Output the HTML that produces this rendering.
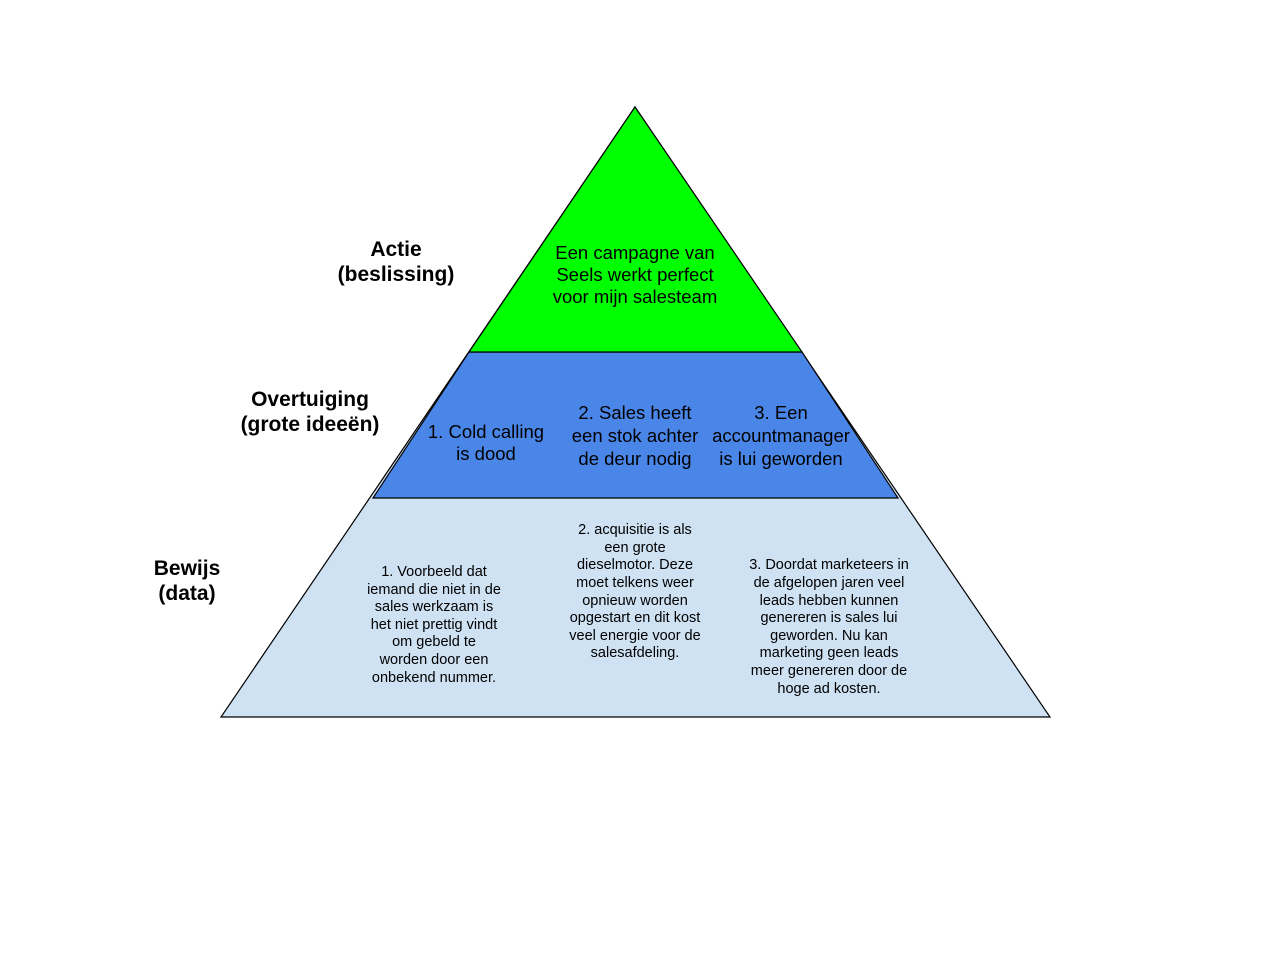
<!DOCTYPE html>
<html><head><meta charset="utf-8"><style>
body{margin:0;background:#fff;}
svg{display:block}
text{font-family:"Liberation Sans",Arial,sans-serif;fill:#000}
.b{font-weight:bold;font-size:21px}
.m{font-size:18.5px}
.s{font-size:14.5px}
</style></head><body>
<svg width="1280" height="960" viewBox="0 0 1280 960">
<polygon points="635,107 221,717 1050,717" fill="#cfe2f3" stroke="#000" stroke-width="1.2"/>
<polygon points="373,498 898,498 802,352 469,352" fill="#4a86e8" stroke="#000" stroke-width="1.2"/>
<polygon points="635,107 469,352 802,352" fill="#00ff00" stroke="#000" stroke-width="1.2"/>
<g text-anchor="middle">
<text class="b" x="396" y="256">Actie</text>
<text class="b" x="396" y="281">(beslissing)</text>
<text class="b" x="310" y="406">Overtuiging</text>
<text class="b" x="310" y="431">(grote ideeën)</text>
<text class="b" x="187" y="575">Bewijs</text>
<text class="b" x="187" y="600">(data)</text>
<text class="m" x="635" y="259">Een campagne van</text>
<text class="m" x="635" y="281">Seels werkt perfect</text>
<text class="m" x="635" y="303">voor mijn salesteam</text>
<text class="m" x="486" y="438">1. Cold calling</text>
<text class="m" x="486" y="460">is dood</text>
<text class="m" x="635" y="419">2. Sales heeft</text>
<text class="m" x="635" y="442">een stok achter</text>
<text class="m" x="635" y="465">de deur nodig</text>
<text class="m" x="781" y="419">3. Een</text>
<text class="m" x="781" y="442">accountmanager</text>
<text class="m" x="781" y="465">is lui geworden</text>
<text class="s" x="434" y="576">1. Voorbeeld dat</text>
<text class="s" x="434" y="594">iemand die niet in de</text>
<text class="s" x="434" y="611">sales werkzaam is</text>
<text class="s" x="434" y="629">het niet prettig vindt</text>
<text class="s" x="434" y="646">om gebeld te</text>
<text class="s" x="434" y="664">worden door een</text>
<text class="s" x="434" y="682">onbekend nummer.</text>
<text class="s" x="635" y="534">2. acquisitie is als</text>
<text class="s" x="635" y="552">een grote</text>
<text class="s" x="635" y="569">dieselmotor. Deze</text>
<text class="s" x="635" y="587">moet telkens weer</text>
<text class="s" x="635" y="605">opnieuw worden</text>
<text class="s" x="635" y="622">opgestart en dit kost</text>
<text class="s" x="635" y="640">veel energie voor de</text>
<text class="s" x="635" y="657">salesafdeling.</text>
<text class="s" x="829" y="569">3. Doordat marketeers in</text>
<text class="s" x="829" y="587">de afgelopen jaren veel</text>
<text class="s" x="829" y="605">leads hebben kunnen</text>
<text class="s" x="829" y="622">genereren is sales lui</text>
<text class="s" x="829" y="640">geworden. Nu kan</text>
<text class="s" x="829" y="657">marketing geen leads</text>
<text class="s" x="829" y="675">meer genereren door de</text>
<text class="s" x="829" y="693">hoge ad kosten.</text>
</g>
</svg>
</body></html>
